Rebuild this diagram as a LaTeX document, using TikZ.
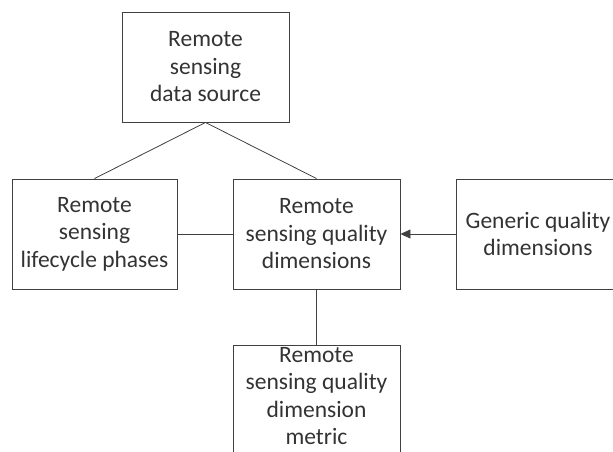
\documentclass[tikz,border=0pt]{standalone}
\usepackage{fontspec}
\setmainfont{Carlito}
\usetikzlibrary{arrows.meta}
\definecolor{ink}{HTML}{333333}
\definecolor{edge}{HTML}{404040}
\tikzset{
  box/.style={draw=edge, line width=0.9pt, rectangle, minimum width=167pt, minimum height=110pt,
    inner sep=0pt, align=center, text=ink, font=\fontsize{23.5}{27.5}\selectfont},
  link/.style={draw=edge, line width=0.8pt},
  arrowlink/.style={link, -{Triangle[length=10pt,width=9pt]}}
}
\begin{document}
\begin{tikzpicture}[x=1pt,y=-1pt]
\useasboundingbox (0,0) rectangle (613,451);
\node[box] (src) at (205.5,67) {Remote\\sensing\\data source};
\node[box, minimum width=165pt] (life) at (94.5,234) {Remote\\sensing\\lifecycle phases};
\node[box] (qual) at (316.5,234) {Remote\\sensing quality\\dimensions};
\node[box, minimum width=164pt] (gen) at (538,234) {Generic quality\\dimensions};
\node[box] (met) at (316.5,400) {};
\node[align=center, text=ink, font=\fontsize{23.5}{27.5}\selectfont, inner sep=0pt] (mettext) at (316.5,396) {Remote\\sensing quality\\dimension\\metric};
\draw[link] (src.south) -- (life.north);
\draw[link] (src.south) -- (qual.north);
\draw[link] (life.east) -- (qual.west);
\draw[arrowlink] (gen.west) -- (qual.east);
\draw[link] (qual.south) -- (met.north);
\end{tikzpicture}
\end{document}
